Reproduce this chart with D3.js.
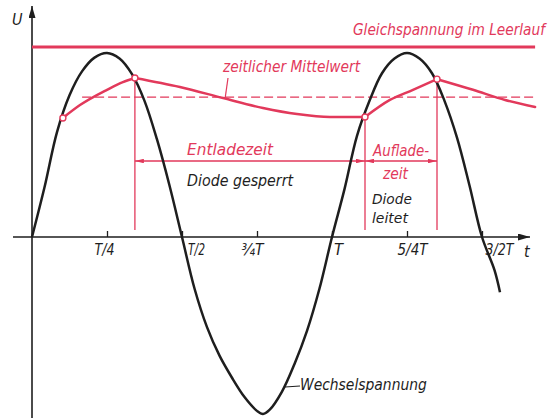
<!DOCTYPE html>
<html>
<head>
<meta charset="utf-8">
<script src="https://cdn.jsdelivr.net/npm/d3@7/dist/d3.min.js"></script>
<style>
  html, body { margin: 0; padding: 0; background: #fff; }
  svg { display: block; }
  text { font-family: "Liberation Sans Narrow", "DejaVu Sans Condensed", "Roboto", sans-serif; font-style: italic; }
</style>
</head>
<body>
<svg id="chart" width="558" height="418"></svg>
<script>
// Time in units of the period T, voltage U relative to the AC peak.
const tickValues = [0.25, 0.5, 0.75, 1, 1.25, 1.5];
const tickLabels = ["T/4", "T/2", "¾T", "T", "5/4T", "3/2T"];

// Wechselspannung (AC input voltage)
const acT = [0, 1/24, 2/24, 3/24, 4/24, 5/24, 6/24, 7/24, 8/24, 9/24, 10/24, 11/24, 12/24,
             13/24, 14/24, 15/24, 16/24, 17/24, 18/24, 0.77, 19/24, 20/24, 21/24, 22/24, 23/24, 1,
             25/24, 26/24, 27/24, 28/24, 29/24, 30/24, 31/24, 32/24, 33/24, 34/24, 35/24, 36/24,
             37/24, 1.56];
const acU = [0, 0.27, 0.57, 0.77, 0.90, 0.975, 1.0, 0.97, 0.885, 0.74, 0.53, 0.28, 0,
             -0.28, -0.49, -0.645, -0.765, -0.87, -0.945, -0.962, -0.94, -0.84, -0.69, -0.51, -0.28, 0,
             0.26, 0.55, 0.74, 0.89, 0.97, 1.0, 0.97, 0.89, 0.74, 0.54, 0.28, 0,
             -0.18, -0.30];

// Output voltage across the capacitor: charging and discharging phases
const charge1T = [0.103, 0.16, 0.25, 0.303, 0.343];
const charge1U = [0.647, 0.717, 0.80, 0.842, 0.864];
const discharge1T = [0.343, 0.493, 0.637, 0.77, 0.883, 0.993, 1.11];
const discharge1U = [0.864, 0.815, 0.755, 0.701, 0.668, 0.652, 0.652];
const charge2T = [1.11, 1.193, 1.27, 1.35];
const charge2U = [0.652, 0.745, 0.80, 0.858];
const discharge2T = [1.35, 1.47, 1.577, 1.677];
const discharge2U = [0.858, 0.80, 0.745, 0.707];

const noLoadU = 1.033;     // Gleichspannung im Leerlauf
const meanU = 0.76;        // zeitlicher Mittelwert
const tEnd = 1.677;
const dischargeStart = 0.343, chargeStart = 1.11, chargeEnd = 1.35;
const dimU = 0.413;        // height of the time dimension arrows

const RED = "#e2395b";
const INK = "#1e1e1e";

const svg = d3.select("#chart");
const x = d3.scaleLinear().domain([0, 1]).range([32, 332]);
const y = d3.scaleLinear().domain([0, 1]).range([237, 53]);

const defs = svg.append("defs");
function marker(id, color, w, h) {
  defs.append("marker")
    .attr("id", id).attr("viewBox", `0 0 ${w} ${h}`)
    .attr("refX", w).attr("refY", h / 2)
    .attr("markerWidth", w).attr("markerHeight", h)
    .attr("markerUnits", "userSpaceOnUse")
    .attr("orient", "auto-start-reverse")
    .append("path").attr("d", `M0,0L${w},${h / 2}L0,${h}Z`).attr("fill", color);
}
marker("axArrow", INK, 12, 7);
marker("redArrow", RED, 9, 4.5);

// Axes
svg.append("line")
  .attr("x1", x(0)).attr("x2", x(0)).attr("y1", 418).attr("y2", 6)
  .attr("stroke", INK).attr("stroke-width", 1.6).attr("marker-end", "url(#axArrow)");

const xAxis = d3.axisBottom(x)
  .tickValues(tickValues)
  .tickFormat((d, i) => tickLabels[i])
  .tickSizeInner(-6).tickSizeOuter(0).tickPadding(7);
const gx = svg.append("g").attr("transform", `translate(0,${y(0)})`).call(xAxis);
gx.select(".domain").remove();
gx.selectAll(".tick line").attr("stroke", INK).attr("stroke-width", 1.3);
const labelShift = [-3, 14, -5, 6, 5, 17];
const labelWidth = [20, 17, 22, 9, 30, 28];
gx.selectAll(".tick text")
  .attr("fill", INK).style("font-size", "16px")
  .attr("font-family", null)
  .attr("textLength", (d, i) => labelWidth[i])
  .attr("lengthAdjust", "spacingAndGlyphs")
  .attr("dx", (d, i) => labelShift[i]);
svg.append("line")
  .attr("x1", 13).attr("x2", 530).attr("y1", y(0)).attr("y2", y(0))
  .attr("stroke", INK).attr("stroke-width", 1.6).attr("marker-end", "url(#axArrow)");

svg.append("text").attr("x", 12).attr("y", 25).style("font-size", "16px").attr("fill", INK).text("U");
svg.append("text").attr("x", 524).attr("y", 257).style("font-size", "16px").attr("fill", INK).text("t");

// No-load DC level and time-averaged level
svg.append("line")
  .attr("x1", x(0)).attr("x2", x(tEnd)).attr("y1", y(noLoadU)).attr("y2", y(noLoadU))
  .attr("stroke", RED).attr("stroke-width", 3);
svg.append("line")
  .attr("x1", x(0.167)).attr("x2", x(tEnd)).attr("y1", y(meanU)).attr("y2", y(meanU))
  .attr("stroke", RED).attr("stroke-width", 1.4).attr("stroke-dasharray", "9,4");

// Vertical boundaries of discharge / charge phases
[[dischargeStart, 0.864], [chargeStart, 0.652], [chargeEnd, 0.858]].forEach(([t, u]) => {
  svg.append("line")
    .attr("x1", x(t)).attr("x2", x(t)).attr("y1", y(u)).attr("y2", y(0.038))
    .attr("stroke", RED).attr("stroke-width", 1.3);
});

// Dimension arrows: Entladezeit and Aufladezeit
svg.append("line")
  .attr("x1", x(dischargeStart)).attr("x2", x(chargeStart)).attr("y1", y(dimU)).attr("y2", y(dimU))
  .attr("stroke", RED).attr("stroke-width", 1.3)
  .attr("marker-start", "url(#redArrow)").attr("marker-end", "url(#redArrow)");
svg.append("line")
  .attr("x1", x(chargeStart)).attr("x2", x(chargeEnd)).attr("y1", y(dimU)).attr("y2", y(dimU))
  .attr("stroke", RED).attr("stroke-width", 1.3)
  .attr("marker-start", "url(#redArrow)").attr("marker-end", "url(#redArrow)");

// AC voltage curve
const acLine = d3.line().x(d => x(d[0])).y(d => y(d[1])).curve(d3.curveCatmullRom.alpha(0.5));
svg.append("path")
  .attr("d", acLine(acT.map((t, i) => [t, acU[i]])))
  .attr("fill", "none").attr("stroke", INK).attr("stroke-width", 2.5);

// Output voltage curve
const redLine = d3.line().x(d => x(d[0])).y(d => y(d[1])).curve(d3.curveMonotoneX);
[[charge1T, charge1U], [discharge1T, discharge1U], [charge2T, charge2U], [discharge2T, discharge2U]]
  .forEach(([ts, us]) => {
    svg.append("path")
      .attr("d", redLine(ts.map((t, i) => [t, us[i]])))
      .attr("fill", "none").attr("stroke", RED).attr("stroke-width", 2.5)
      .attr("stroke-linecap", "round");
  });
[[charge1T[0], charge1U[0]], [dischargeStart, 0.864], [chargeStart, 0.652], [chargeEnd, 0.858]]
  .forEach(([t, u]) => {
    svg.append("circle").attr("cx", x(t)).attr("cy", y(u)).attr("r", 3)
      .attr("fill", "#fff").attr("stroke", RED).attr("stroke-width", 1.4);
  });

// Leader lines
svg.append("line").attr("x1", 228).attr("y1", 78).attr("x2", 225).attr("y2", y(meanU) + 2)
  .attr("stroke", RED).attr("stroke-width", 1.2);
svg.append("line").attr("x1", 285).attr("y1", 387).attr("x2", 300).attr("y2", 386)
  .attr("stroke", INK).attr("stroke-width", 1.2);

// Annotations
function label(str, t, u, len, color, anchor, size) {
  svg.append("text")
    .attr("x", x(t)).attr("y", y(u))
    .attr("text-anchor", anchor || "start")
    .style("font-size", (size || 15) + "px").attr("fill", color)
    .attr("textLength", len).attr("lengthAdjust", "spacingAndGlyphs")
    .text(str);
}
label("Gleichspannung im Leerlauf", 1.71, 1.098, 192, RED, "end");
label("zeitlicher Mittelwert", 0.637, 0.897, 137, RED);
label("Entladezeit", 0.517, 0.446, 86, RED);
label("Diode gesperrt", 0.517, 0.275, 106, INK);
label("Auflade-", 1.137, 0.44, 56, RED);
label("zeit", 1.17, 0.315, 25, RED);
label("Diode", 1.133, 0.18, 40, INK, "start", 14);
label("leitet", 1.133, 0.078, 36, INK, "start", 14);
label("Wechselspannung", 0.893, -0.832, 127, INK);
</script>
</body>
</html>
